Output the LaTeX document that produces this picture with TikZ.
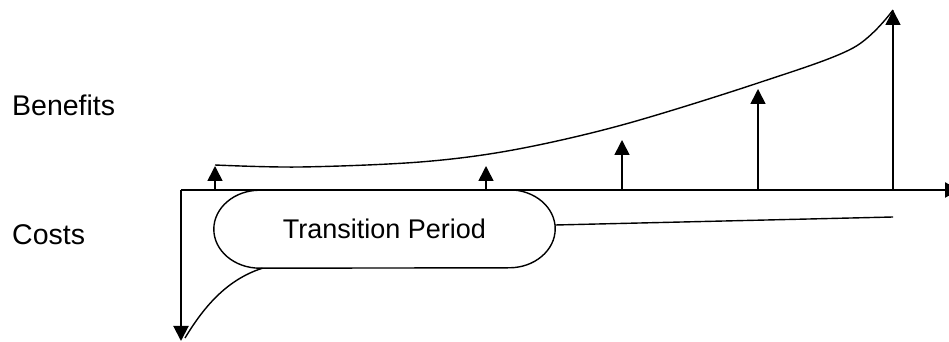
\documentclass[tikz,border=0pt]{standalone}
\usepackage{fontspec}
\setmainfont{Liberation Sans}
\usetikzlibrary{arrows.meta}
\begin{document}
\begin{tikzpicture}[x=1pt,y=1pt,
  axisline/.style={line width=2pt},
  curveline/.style={line width=1.4pt},
  riser/.style={line width=1.6pt,-{Triangle[width=15pt,length=15pt]}},
  axisarrow/.style={line width=2pt,-{Triangle[width=15pt,length=15pt]}},
  sidelabel/.style={anchor=west,inner sep=0pt,font=\fontsize{28.5}{34}\selectfont},
  pill/.style={minimum width=341pt,minimum height=78pt,inner sep=0pt,
    font=\fontsize{27}{32}\selectfont}]
\useasboundingbox[fill=white] (0,0) rectangle (949,342);

% axes
\coordinate (O) at (181,152);
\coordinate (xend) at (960,152);
\coordinate (yend) at (181,1);
\draw[axisarrow] (O) -- (xend);
\draw[axisarrow] (O) -- (yend);

% side labels
\node[sidelabel] (ben) at (12,237) {Benefits};
\node[sidelabel] (cost) at (12,107) {Costs};

% transition period box
\node[pill] (tp) at (384.5,113) {Transition Period};
\draw[curveline] ([xshift=46pt]tp.north west) -- ([xshift=-46pt]tp.north east)
  arc[start angle=90,end angle=-90,x radius=46pt,y radius=39pt]
  -- ([xshift=46pt]tp.south west)
  arc[start angle=270,end angle=90,x radius=46pt,y radius=39pt] -- cycle;

% benefit arrows
\foreach \n/\x/\h in {b1/215/176, b2/486/176, b3/622/202, b4/758/253, b5/893/332}{
  \coordinate (\n base) at (\x,152);
  \coordinate (\n top) at (\x,\h);
  \draw[riser] (\n base) -- (\n top);
}

% benefits curve
\draw[curveline] plot[smooth,tension=0.55] coordinates
  {(215,177) (300,175) (420,180) (513,192) (622,217) (758,259) (853,294) (893,332)};

% costs curves
\coordinate (c1) at (893,125);
\coordinate (c0) at (185,4);
\draw[curveline] (tp.east) ++(0,4) -- (c1);
\draw[curveline] ([xshift=-122pt]tp.south) .. controls (225,62) and (202,32) .. (c0);
\end{tikzpicture}
\end{document}
